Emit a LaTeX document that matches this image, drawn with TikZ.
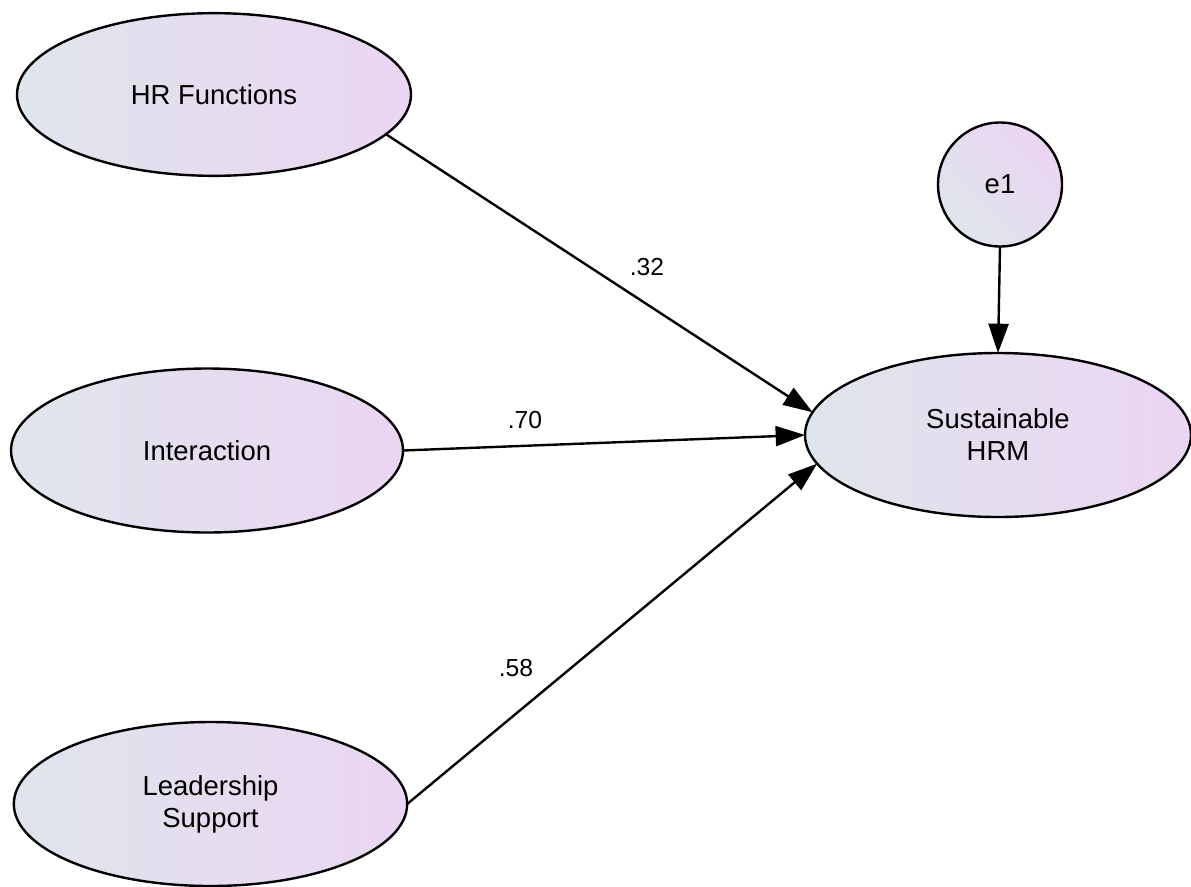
\documentclass[tikz,border=0pt]{standalone}
\usepackage{fontspec}
\setmainfont{Liberation Sans}
\usetikzlibrary{arrows.meta,shapes.geometric}
\definecolor{shadeL}{RGB}{223,229,236}
\definecolor{shadeR}{RGB}{235,213,243}
\tikzset{
  latent/.style={ellipse, draw=black, line width=1.8pt, inner sep=0pt, outer sep=0pt,
    left color=shadeL, right color=shadeR, align=center,
    font=\fontsize{20.6}{24}\selectfont},
  errvar/.style={circle, draw=black, line width=1.8pt, inner sep=0pt, outer sep=0pt,
    minimum size=93pt, shading=axis, left color=shadeL, right color=shadeR, shading angle=135,
    font=\fontsize{20.6}{24}\selectfont},
  path/.style={line width=1.8pt, -{Triangle[length=22pt,width=15pt]}},
  coef/.style={font=\fontsize{18.5}{22}\selectfont, inner sep=0pt}
}
\begin{document}
\begin{tikzpicture}[x=0.75pt,y=-0.75pt]
\useasboundingbox (0,0) rectangle (1191,886);
\node[latent, minimum width=295.5pt, minimum height=122pt] (hr) at (214,94.5) {HR Functions};
\node[latent, minimum width=294pt, minimum height=123pt] (int) at (207,450.5) {Interaction};
\node[latent, minimum width=295pt, minimum height=123pt] (lead) at (210.5,804) {Leadership\\Support};
\node[latent, minimum width=289.5pt, minimum height=123pt] (sus) at (998,435) {Sustainable\\HRM};
\node[errvar] (e1) at (1000,184.5) {e1};
\draw[path] (hr.-13.3) -- (sus.173);
\draw[path] (int.-0.9) -- (sus.180);
\draw[path] (lead.0) -- (sus.-171.4);
\draw[path] (e1.south) -- (sus.north);
\node[coef] (c1) at (647,267) {.32};
\node[coef] (c2) at (525,420) {.70};
\node[coef] (c3) at (516,668) {.58};
\end{tikzpicture}
\end{document}
